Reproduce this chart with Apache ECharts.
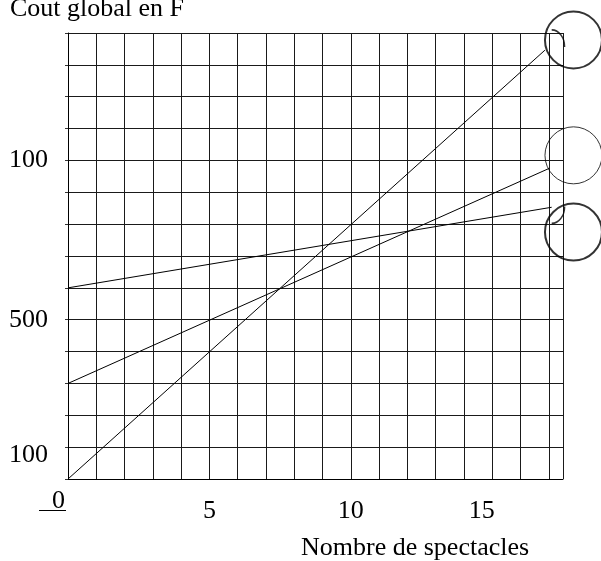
<!DOCTYPE html>
<html>
<head>
<meta charset="utf-8">
<script src="https://cdn.jsdelivr.net/npm/echarts@6/dist/echarts.min.js"></script>
<style>
  html, body { margin: 0; padding: 0; background: #fff; }
  #chart { width: 601px; height: 561px; }
</style>
</head>
<body>
<div id="chart"></div>
<script>
// données
var titleText = 'Cout global en F';
var xName = 'Nombre de spectacles';
var xTickValues = [0, 5, 10, 15];
var xTickLabels = ['0', '5', '10', '15'];
var yTickValues = [100, 500, 1000];
var yTickLabels = ['100', '500', '100'];   // tel qu'écrit sur la figure
// trois droites de coût (x = nombre de spectacles, y = coût)
var line1X = [0, 16.86];
var line1Y = [0, 1346];
var line2X = [0, 17.01];
var line2Y = [300, 975];
var line3X = [0, 17.1];
var line3Y = [600, 853];
// cercles tracés à la main en bout de droite
var circleX = [17.87, 17.87, 17.87];
var circleY = [1378, 1016, 775];
var arcX = [17.33, 17.33];
var arcY = [1383, 829];

function pairs(xs, ys) {
    return xs.map(function (x, i) { return [x, ys[i]]; });
}

var FONT = 'Liberation Serif';
var FS = 26;
var chart = echarts.init(document.getElementById('chart'));

var option = {
    animation: false,
    title: [
        {
            text: titleText,
            left: 5,
            top: -9,
            textStyle: { fontFamily: FONT, fontSize: FS, fontWeight: 'normal', color: '#000' }
        },
        {
            text: xName,
            left: 296,
            top: 530,
            textStyle: { fontFamily: FONT, fontSize: FS, fontWeight: 'normal', color: '#000' }
        }
    ],
    grid: { left: 68, right: 38, top: 33, bottom: 82 },
    xAxis: {
        type: 'value',
        min: 0,
        max: 17.5,
        interval: 1,
        axisLine: { show: true, lineStyle: { color: '#000', width: 1 } },
        axisTick: { show: false },
        splitLine: { show: true, lineStyle: { color: '#1a1a1a', width: 1 } },
        axisLabel: {
            margin: 14,
            showMaxLabel: false,
            fontFamily: FONT,
            fontSize: FS,
            color: '#000',
            formatter: function (v) {
                var i = xTickValues.indexOf(v);
                if (i < 0) return '';
                if (v === 0) return '{z|' + xTickLabels[i] + '}\n{u| }{s| }';
                if (v === 15) return '{f|' + xTickLabels[i] + '}';
                return '{n|' + xTickLabels[i] + '}';
            },
            rich: {
                z: { fontFamily: FONT, fontSize: FS, lineHeight: 17, align: 'left', padding: [0, 0, 0, 13], color: '#000' },
                u: { width: 27, height: 1, lineHeight: 1, fontSize: 1, backgroundColor: '#000' },
                s: { width: 31, height: 1, lineHeight: 1, fontSize: 1 },
                n: { fontFamily: FONT, fontSize: FS, lineHeight: 26, padding: [10, 0, 0, 0], color: '#000' },
                f: { fontFamily: FONT, fontSize: FS, lineHeight: 26, padding: [10, 21, 0, 0], color: '#000' }
            }
        }
    },
    yAxis: {
        type: 'value',
        min: 0,
        max: 1400,
        interval: 100,
        axisLine: { show: true, lineStyle: { color: '#000', width: 1 } },
        axisTick: { show: true, length: 3, lineStyle: { color: '#333' } },
        splitLine: { show: true, lineStyle: { color: '#1a1a1a', width: 1 } },
        axisLabel: {
            margin: 20,
            fontFamily: FONT,
            fontSize: FS,
            color: '#000',
            formatter: function (v) {
                var i = yTickValues.indexOf(v);
                if (i < 0) return '';
                if (v === 100) return '{d|' + yTickLabels[i] + '}';
                return '{n|' + yTickLabels[i] + '}';
            },
            rich: {
                n: { fontFamily: FONT, fontSize: FS, color: '#000' },
                d: { fontFamily: FONT, fontSize: FS, color: '#000', padding: [16, 0, 0, 0] }
            }
        }
    },
    series: [
        {
            type: 'line',
            data: pairs(line1X, line1Y),
            symbol: 'none',
            lineStyle: { color: '#000', width: 1 }
        },
        {
            type: 'line',
            data: pairs(line2X, line2Y),
            symbol: 'none',
            lineStyle: { color: '#000', width: 1 }
        },
        {
            type: 'line',
            data: pairs(line3X, line3Y),
            symbol: 'none',
            lineStyle: { color: '#000', width: 1 }
        },
        {
            type: 'scatter',
            clip: false,
            silent: true,
            symbol: 'circle',
            symbolSize: 57,
            data: pairs(circleX, circleY).map(function (p, i) {
                return {
                    value: p,
                    itemStyle: { borderWidth: i === 1 ? 1 : 2 }
                };
            }),
            itemStyle: { color: 'rgba(0,0,0,0)', borderColor: '#000', borderWidth: 2 }
        },
        {
            type: 'scatter',
            clip: false,
            silent: true,
            symbolSize: [13, 17],
            data: [
                { value: [arcX[0], arcY[0]], symbol: 'path://M0,0 A10,10 0 0 1 10,10' },
                { value: [arcX[1], arcY[1]], symbol: 'path://M10,0 A10,10 0 0 1 0,10' }
            ],
            itemStyle: { color: 'rgba(0,0,0,0)', borderColor: '#000', borderWidth: 1.5 }
        }
    ]
};

chart.setOption(option);
</script>
</body>
</html>
